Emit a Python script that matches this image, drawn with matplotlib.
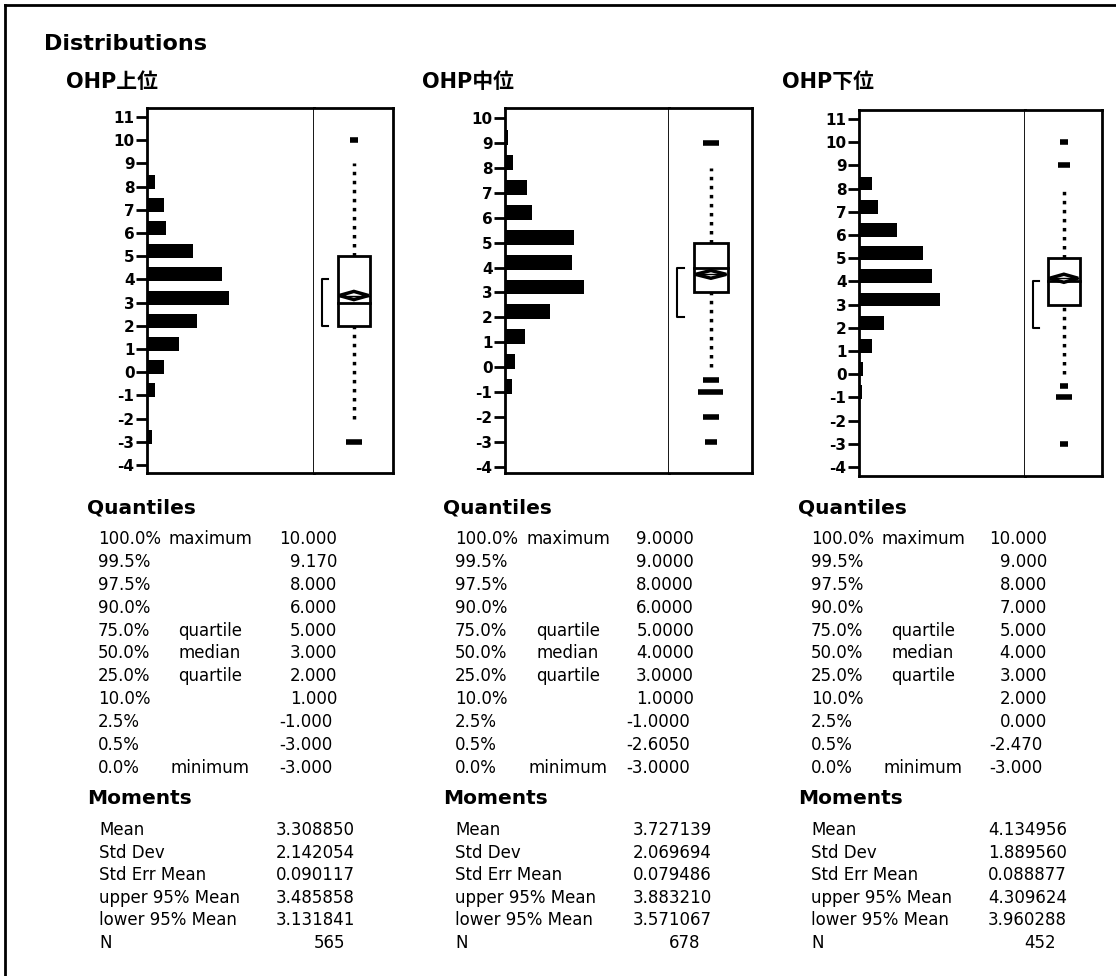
import matplotlib
matplotlib.use('Agg')
import matplotlib.pyplot as plt
from matplotlib.patches import Rectangle, Polygon
from matplotlib.lines import Line2D

plt.rcParams['font.family'] = ['DejaVu Sans', 'Noto Sans CJK JP']
plt.rcParams['axes.unicode_minus'] = False

W, H = 1116, 976

titles = ['OHP上位', 'OHP中位', 'OHP下位']

# histogram: number of answers at each score
scores = [-3, -2, -1, 0, 1, 2, 3, 4, 5, 6, 7, 8, 9, 10]
counts_upper = [8, 2, 12, 26, 50, 78, 128, 118, 72, 30, 26, 12, 2, 1]
counts_middle = [2, 2, 13, 19, 38, 85, 149, 127, 130, 51, 42, 15, 5, 0]
counts_lower = [2, 0, 4, 6, 18, 33, 108, 97, 86, 51, 25, 18, 2, 2]

# box plot numbers
q1s = [2, 3, 3]
medians = [3, 4, 4]
q3s = [5, 5, 5]
means = [3.308850, 3.727139, 4.134956]
lower95 = [3.131841, 3.571067, 3.960288]
upper95 = [3.485858, 3.883210, 4.309624]
whisk_lo = [-2, 0, 0]
whisk_hi = [9, 8, 8]
shortest_half = [(2, 4), (2, 4), (2, 4)]
outliers_upper = [10, -3]
outcount_upper = [1, 3]
outliers_middle = [9, -0.5, -1, -2, -3]
outcount_middle = [3, 3, 5, 3, 2]
outliers_lower = [10, 9, -0.5, -1, -3]
outcount_lower = [1, 2, 1, 3, 1]

# quantiles table
q_pct = ['100.0%', '99.5%', '97.5%', '90.0%', '75.0%', '50.0%',
         '25.0%', '10.0%', '2.5%', '0.5%', '0.0%']
q_names = ['maximum', '', '', '', 'quartile', 'median', 'quartile',
           '', '', '', 'minimum']
q_upper = ['10.000', '9.170', '8.000', '6.000', '5.000', '3.000', '2.000',
           '1.000', '-1.000', '-3.000', '-3.000']
q_middle = ['9.0000', '9.0000', '8.0000', '6.0000', '5.0000', '4.0000',
            '3.0000', '1.0000', '-1.0000', '-2.6050', '-3.0000']
q_lower = ['10.000', '9.000', '8.000', '7.000', '5.000', '4.000', '3.000',
           '2.000', '0.000', '-2.470', '-3.000']

# moments table
m_names = ['Mean', 'Std Dev', 'Std Err Mean', 'upper 95% Mean',
           'lower 95% Mean', 'N']
m_upper = ['3.308850', '2.142054', '0.090117', '3.485858', '3.131841', '565']
m_middle = ['3.727139', '2.069694', '0.079486', '3.883210', '3.571067', '678']
m_lower = ['4.134956', '1.889560', '0.088877', '4.309624', '3.960288', '452']

counts = [counts_upper, counts_middle, counts_lower]
outliers = [outliers_upper, outliers_middle, outliers_lower]
outcounts = [outcount_upper, outcount_middle, outcount_lower]
quant_vals = [q_upper, q_middle, q_lower]
mom_vals = [m_upper, m_middle, m_lower]

# layout (pixels)
ax_left = [147, 505, 859]
ax_div = [314, 669, 1025]
ax_right = [393, 752, 1102]
ax_top = [108, 108, 110]
ax_bot = [473, 473, 476]
ylims = [(-4.34, 11.39), (-4.24, 10.4), (-4.39, 11.39)]
yticks = [range(-4, 12), range(-4, 11), range(-4, 12)]
xmax = [262, 310, 222]
title_x = [66, 422, 782]
head_x = [87, 443, 798]
pct_x = [98, 455, 811]
name_cx = [210, 568, 923]
qval_rx = [337, 694, 1047]
mlab_x = [99, 455, 811]
mval_rx = [355, 712, 1067]
nval_rx = [345, 700, 1056]

BODY = 12

fig = plt.figure(figsize=(W / 100, H / 100), dpi=100)


def fx(x):
    return x / W


def fy(y):
    return 1 - y / H


def ftext(x, y, s, **kw):
    fig.text(fx(x), fy(y), s, **kw)


# frame of the report (top + left edge)
fig.add_artist(Line2D([fx(5), 1], [fy(5), fy(5)], color='black', lw=2))
fig.add_artist(Line2D([fx(5), fx(5)], [fy(5), 0], color='black', lw=2))

ftext(44, 44, 'Distributions', fontsize=16, fontweight='bold', va='center')

for i in range(3):
    ftext(title_x[i], 82, titles[i], fontsize=15, fontweight='bold', va='center')

    b, t = fy(ax_bot[i]), fy(ax_top[i])
    axh = fig.add_axes([fx(ax_left[i]), b, fx(ax_div[i]) - fx(ax_left[i]), t - b])
    axb = fig.add_axes([fx(ax_div[i]), b, fx(ax_right[i]) - fx(ax_div[i]), t - b])

    # histogram
    axh.barh([s - 0.08 for s in scores], counts[i], height=0.6, align='edge',
             color='black')
    axh.set_xlim(0, xmax[i])
    axh.set_ylim(*ylims[i])
    axh.set_yticks(list(yticks[i]))
    axh.set_xticks([])
    axh.tick_params(axis='y', length=8, width=2, pad=1, labelsize=11)
    for lab in axh.get_yticklabels():
        lab.set_fontweight('bold')
    for sp in axh.spines.values():
        sp.set_linewidth(2)

    # outlier box plot
    axb.set_xlim(0, 1)
    axb.set_ylim(*ylims[i])
    axb.set_xticks([])
    axb.set_yticks([])
    axb.spines['left'].set_visible(False)
    for sp in axb.spines.values():
        sp.set_linewidth(2)
    x0, x1, xc = 0.30, 0.71, 0.505
    axb.add_patch(Rectangle((x0, q1s[i]), x1 - x0, q3s[i] - q1s[i],
                            fill=False, lw=2, ec='black'))
    axb.plot([x0, x1], [medians[i], medians[i]], color='black', lw=2)
    axb.add_patch(Polygon([(x0 + 0.02, means[i]), (xc, upper95[i]),
                           (x1 - 0.02, means[i]), (xc, lower95[i])],
                          closed=True, fc='white', ec='black', lw=2.5, zorder=3))
    axb.plot([x0 + 0.02, x1 - 0.02], [means[i], means[i]], color='black',
             lw=1, zorder=4)
    axb.plot([xc, xc], [q3s[i], whisk_hi[i]], color='black', lw=2.5,
             ls=(0, (1, 1.6)))
    axb.plot([xc, xc], [whisk_lo[i], q1s[i]], color='black', lw=2.5,
             ls=(0, (1, 1.6)))
    lo, hi = shortest_half[i]
    axb.plot([0.18, 0.10, 0.10, 0.18], [lo, lo, hi, hi], color='black', lw=1.5)
    for v, c in zip(outliers[i], outcounts[i]):
        w = 0.05 + 0.05 * c
        axb.plot([xc - w / 2, xc + w / 2], [v, v], color='black', lw=4,
                 solid_capstyle='butt')

    # quantiles
    ftext(head_x[i], 508, 'Quantiles', fontsize=14.5, fontweight='bold', va='center')
    for r in range(len(q_pct)):
        y = 539 + r * 22.9
        ftext(pct_x[i], y, q_pct[r], fontsize=BODY, va='center')
        if q_names[r]:
            ftext(name_cx[i], y, q_names[r], fontsize=BODY, va='center', ha='center')
        v = quant_vals[i][r]
        rx = qval_rx[i] - (4 if v.startswith('-') else 0)
        ftext(rx, y, v, fontsize=BODY, va='center', ha='right')

    # moments
    ftext(head_x[i], 798, 'Moments', fontsize=14.5, fontweight='bold', va='center')
    for r in range(len(m_names)):
        y = 830 + r * 22.6
        ftext(mlab_x[i], y, m_names[r], fontsize=BODY, va='center')
        rx = nval_rx[i] if m_names[r] == 'N' else mval_rx[i]
        ftext(rx, y, mom_vals[i][r], fontsize=BODY, va='center', ha='right')

fig.savefig('out.png', dpi=100, facecolor='white')
